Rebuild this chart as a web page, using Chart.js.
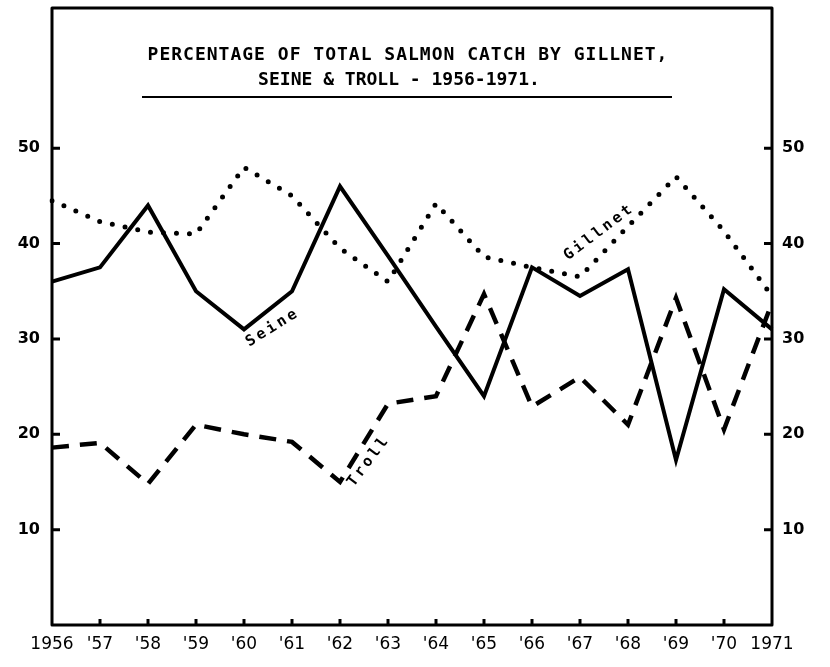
<!DOCTYPE html>
<html>
<head>
<meta charset="utf-8">
<script src="https://cdn.jsdelivr.net/npm/chart.js@4"></script>
<style>
  body { margin: 0; background: #fff; }
  #box { width: 830px; height: 667px; }
</style>
</head>
<body>
<div id="box"><canvas id="myChart" width="830" height="667"></canvas></div>
<script>
// 資料
const years = ['1956', "'57", "'58", "'59", "'60", "'61", "'62", "'63",
               "'64", "'65", "'66", "'67", "'68", "'69", "'70", '1971'];
const seine   = [36, 37.5, 44, 35, 31, 35, 46, 38.7, 31.3, 24, 37.5, 34.5, 37.3, 17.3, 35.2, 31];
const gillnet = [44.5, 42.3, 41.2, 41, 48, 45, 39.5, 36, 44.2, 38.6, 37.5, 36.5, 41.8, 47, 41.3, 34.5];
const troll   = [18.6, 19.1, 14.8, 21, 20, 19.2, 15, 23.2, 24, 34.7, 22.9, 26, 21, 34.3, 20.5, 33.8];
const yTicks  = [10, 20, 30, 40, 50];
const titleLines = ['PERCENTAGE OF TOTAL SALMON CATCH BY GILLNET,', 'SEINE & TROLL - 1956-1971.'];
// line labels: [text, category index, value, angle in degrees]
const seriesLabels = [
    ['Seine', 4.6, 31.2, -32],
    ['Gillnet', 11.4, 41.2, -37],
    ['Troll', 6.6, 17.2, -53]
];

const ink = '#000';

// frame, inward ticks, title and line labels
const paperPlugin = {
    id: 'paper',
    afterDraw(chart) {
        const ctx = chart.ctx;
        const area = chart.chartArea;
        const x = chart.scales.x;
        const y = chart.scales.y;
        ctx.save();
        ctx.strokeStyle = ink;
        ctx.fillStyle = ink;
        ctx.lineWidth = 3;
        ctx.lineJoin = 'round';
        ctx.strokeRect(area.left, area.top, area.right - area.left, area.bottom - area.top);

        // y ticks on both sides, pointing inward
        yTicks.forEach(v => {
            const py = y.getPixelForValue(v);
            ctx.beginPath();
            ctx.moveTo(area.left, py);
            ctx.lineTo(area.left + 8, py);
            ctx.moveTo(area.right, py);
            ctx.lineTo(area.right - 8, py);
            ctx.stroke();
        });
        // x ticks
        for (let i = 1; i < years.length - 1; i++) {
            const px = x.getPixelForValue(i);
            ctx.beginPath();
            ctx.moveTo(px, area.bottom);
            ctx.lineTo(px, area.bottom - 6);
            ctx.stroke();
        }

        // title
        ctx.font = 'bold 18px "DejaVu Sans Mono"';
        ctx.textAlign = 'center';
        ctx.textBaseline = 'alphabetic';
        const cx = (area.left + area.right) / 2;
        ctx.letterSpacing = '1px';
        ctx.fillText(titleLines[0], cx - 4, area.top + 52);
        ctx.letterSpacing = '0px';
        ctx.fillText(titleLines[1], cx - 13, area.top + 77);
        ctx.lineWidth = 2;
        ctx.beginPath();
        ctx.moveTo(142, area.top + 89);
        ctx.lineTo(672, area.top + 89);
        ctx.stroke();

        // series labels
        ctx.font = 'bold 15px "DejaVu Sans Mono"';
        ctx.letterSpacing = '3px';
        ctx.textBaseline = 'middle';
        seriesLabels.forEach(([txt, idx, val, ang]) => {
            ctx.save();
            ctx.translate(x.getPixelForValue(idx), y.getPixelForValue(val));
            ctx.rotate(ang * Math.PI / 180);
            ctx.fillText(txt, 0, 0);
            ctx.restore();
        });
        ctx.restore();
    }
};

const yScale = (pos, w, pad) => ({
    position: pos,
    min: 0,
    max: 64.7,
    grid: { display: false, drawTicks: false },
    border: { display: false },
    afterBuildTicks: s => { s.ticks = yTicks.map(v => ({ value: v })); },
    afterFit: s => { s.width = w; s.paddingTop = 0; s.paddingBottom = 0; },
    ticks: {
        padding: pad,
        color: ink,
        font: { family: 'DejaVu Sans', size: 16, weight: 'bold' }
    }
});

const config = {
    type: 'line',
    data: {
        labels: years,
        datasets: [
            {
                label: 'Seine',
                data: seine,
                borderColor: ink,
                borderWidth: 4,
                borderJoinStyle: 'miter',
                yAxisID: 'y'
            },
            {
                label: 'Gillnet',
                data: gillnet,
                borderColor: ink,
                borderWidth: 5,
                borderDash: [0, 13],
                borderCapStyle: 'round',
                yAxisID: 'y'
            },
            {
                label: 'Troll',
                data: troll,
                borderColor: ink,
                borderWidth: 4.5,
                borderDash: [17, 11],
                yAxisID: 'y'
            }
        ]
    },
    options: {
        responsive: false,
        animation: false,
        layout: { padding: { top: 8 } },
        elements: {
            point: { radius: 0 },
            line: { tension: 0, fill: false }
        },
        plugins: {
            legend: { display: false },
            tooltip: { enabled: false },
            title: { display: false }
        },
        scales: {
            x: {
                grid: { display: false, drawTicks: false },
                border: { display: false },
                afterFit: s => { s.height = 42; s.paddingLeft = 0; s.paddingRight = 0; },
                ticks: {
                    autoSkip: false,
                    maxRotation: 0,
                    padding: 9,
                    color: ink,
                    font: { family: 'DejaVu Sans', size: 17 }
                }
            },
            y: yScale('left', 52, 12),
            y2: yScale('right', 58, 10)
        }
    },
    plugins: [paperPlugin]
};

const myChart = new Chart(document.getElementById('myChart'), config);
</script>
</body>
</html>
